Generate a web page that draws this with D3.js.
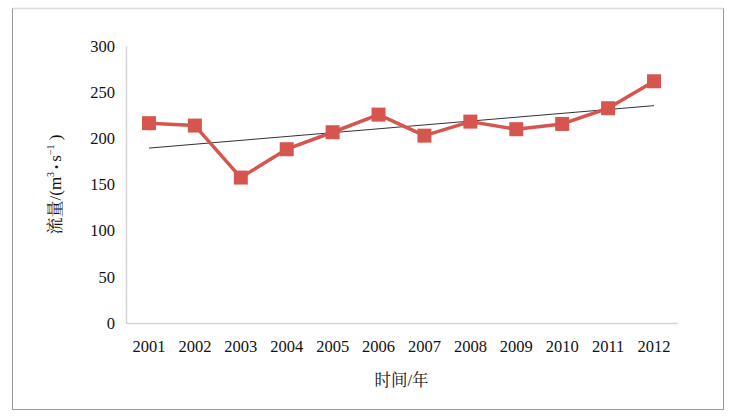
<!DOCTYPE html>
<html><head><meta charset="utf-8">
<script src="https://cdn.jsdelivr.net/npm/d3@7"></script>
<style>body{margin:0;background:#fff}svg{display:block}
svg text{font-family:"Liberation Serif","Times New Roman",Times,"Noto Serif CJK SC","Noto Sans CJK SC",serif;}</style>
</head><body>
<script>
const years = ["2001","2002","2003","2004","2005","2006","2007","2008","2009","2010","2011","2012"];
const flow = [216.4, 213.8, 157.5, 188.2, 206.6, 225.7, 202.9, 218.1, 209.9, 215.6, 232.6, 261.8];
const yTicks = [0, 50, 100, 150, 200, 250, 300];
const xTitle = "时间/年";

const W = 738, H = 420;
const m = {left:126, right:677, top:46, bottom:323};
const red = "#d6554f";

const svg = d3.select("body").append("svg").attr("width", W).attr("height", H);

// outer frame
svg.append("rect").attr("x",12.5).attr("y",8.5).attr("width",711).attr("height",401)
  .attr("fill","none").attr("stroke","#999").attr("stroke-width",1);
svg.append("line").attr("x1",12.5).attr("x2",723.5).attr("y1",8.5).attr("y2",8.5)
  .attr("stroke","#dcdcdc").attr("stroke-width",1.5);

const x = d3.scaleBand().domain(years).range([m.left, m.right]);
const y = d3.scaleLinear().domain([0, 300]).range([m.bottom, m.top]);

// axes
const yAxis = svg.append("g").attr("transform",`translate(${m.left},0)`)
  .call(d3.axisLeft(y).tickValues(yTicks).tickSize(0).tickPadding(11));
const xAxis = svg.append("g").attr("transform",`translate(0,${m.bottom})`)
  .call(d3.axisBottom(x).tickSize(0).tickPadding(17));
[yAxis, xAxis].forEach(g => {
  g.attr("font-family", null);
  g.select(".domain").attr("stroke","#d4d4d4").attr("stroke-width",1.5);
  g.selectAll("text").attr("font-size",16.5).attr("fill","#111");
});

// trend line (least squares over the data)
const n = flow.length;
const idx = d3.range(n);
const mx = d3.mean(idx), my = d3.mean(flow);
const slope = d3.sum(idx, i => (i-mx)*(flow[i]-my)) / d3.sum(idx, i => (i-mx)*(i-mx));
const icpt = my - slope*mx;
const cx = d => x(d) + x.bandwidth()/2;
svg.append("line")
  .attr("x1", cx(years[0])).attr("y1", y(icpt))
  .attr("x2", cx(years[n-1])).attr("y2", y(icpt + slope*(n-1)))
  .attr("stroke","#333").attr("stroke-width",1);

// data line
svg.append("path").datum(flow)
  .attr("d", d3.line().x((d,i)=>cx(years[i])).y(d=>y(d)))
  .attr("fill","none").attr("stroke",red).attr("stroke-width",3.5).attr("stroke-linejoin","round");

// markers
const s = 14;
svg.selectAll("rect.mk").data(flow).join("rect").attr("class","mk")
  .attr("x",(d,i)=>cx(years[i])-s/2).attr("y",d=>y(d)-s/2)
  .attr("width",s).attr("height",s).attr("fill",red);

// axis titles
svg.append("text").attr("x",(m.left+m.right)/2).attr("y",386)
  .attr("text-anchor","middle").attr("font-size",16.5).attr("fill","#111")
  .text(xTitle);

const yt = svg.append("text").attr("transform",`translate(61,${(m.top+m.bottom)/2}) rotate(-90)`)
  .attr("text-anchor","middle").attr("font-size",17).attr("fill","#111");
yt.append("tspan").text("流量/(m");
yt.append("tspan").attr("font-size",10).attr("dy",-7).text("3");
yt.append("tspan").attr("dy",7).attr("font-size",12).text(" • ");
yt.append("tspan").text("s");
yt.append("tspan").attr("font-size",10).attr("dy",-7).text("−1");
yt.append("tspan").attr("dy",7).text(" )");
</script>
</body></html>
